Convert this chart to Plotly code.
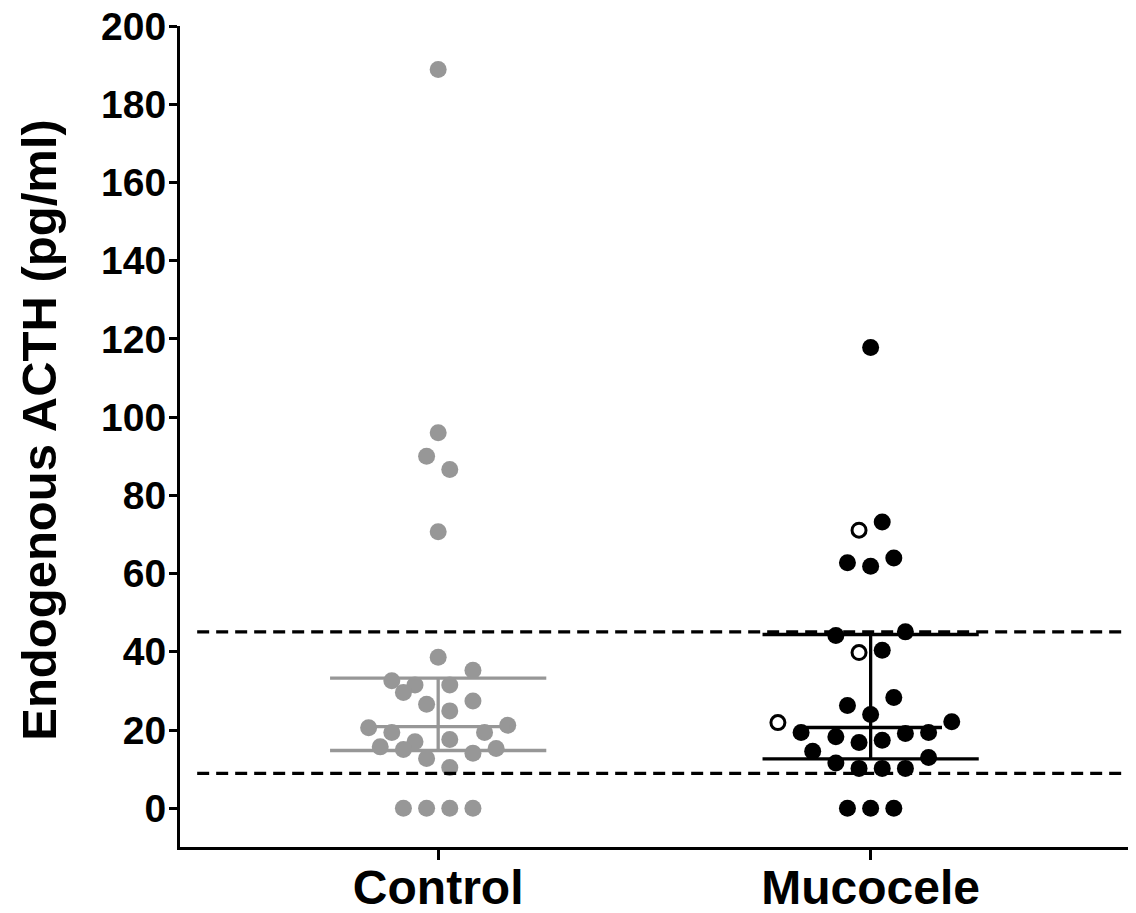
import numpy as np
import plotly.graph_objects as go

# ---------------- data ----------------
categories = ["Control", "Mucocele"]

control_values = [188.9, 96.0, 90.0, 86.6, 70.7,
                  38.6, 35.3, 32.6, 31.5, 29.6, 31.5, 26.6, 27.4, 24.9,
                  20.6, 21.2, 19.4, 19.4, 17.6, 17.0, 15.7, 15.0, 14.1, 15.3,
                  12.7, 10.4, 0, 0, 0, 0]
# swarm slot index of each point (horizontal jitter, in half-marker steps)
control_slots = [0, 0, -1, 1, 0,
                 0, 3, -4, -2, -3, 1, -1, 3, 1,
                 -6, 6, -4, 4, 1, -2, -5, -3, 3, 5,
                 -1, 1, -3, -1, 1, 3]

mucocele_values = [117.8, 73.2, 71.1, 62.8, 61.9, 64.0,
                   44.2, 45.1, 39.8, 40.4, 26.3, 28.3, 24.0,
                   21.9, 22.1, 19.4, 18.3, 16.8, 17.4, 19.1, 19.4,
                   14.6, 11.6, 10.2, 10.2, 10.2, 13.0, 0, 0, 0]
mucocele_slots = [0, 1, -1, -2, 0, 2,
                  -3, 3, -1, 1, -2, 2, 0,
                  -8, 7, -6, -3, -1, 1, 3, 5,
                  -5, -3, -1, 1, 3, 5, -2, 0, 2]
mucocele_open = [False, False, True, False, False, False,
                 False, False, True, False, False, False, False,
                 True, False, False, False, False, False, False, False,
                 False, False, False, False, False, False, False, False, False]

reference_limits = [8.9, 45.1]
y_ticks = list(range(0, 201, 20))

# ---------------- styling constants ----------------
SLOT_STEP = 0.0268
GRAY = "#979797"
BLACK = "#000000"
FONT = "Liberation Sans, Arial, sans-serif"
CAP_HALF = 0.25
MED_HALF = 0.165


def quartiles(vals):
    v = np.sort(np.asarray(vals, dtype=float))
    n = len(v)

    def pct(p):
        pos = p * (n + 1) - 1
        lo = int(np.floor(pos))
        hi = min(lo + 1, n - 1)
        return v[lo] + (pos - lo) * (v[hi] - v[lo])
    return pct(0.25), float(np.median(v)), pct(0.75)


fig = go.Figure()


def add_group(idx, values, slots, color, open_flags=None):
    xs = [idx + s * SLOT_STEP for s in slots]
    if open_flags is None:
        open_flags = [False] * len(values)
    fx = [x for x, o in zip(xs, open_flags) if not o]
    fy = [y for y, o in zip(values, open_flags) if not o]
    ox = [x for x, o in zip(xs, open_flags) if o]
    oy = [y for y, o in zip(values, open_flags) if o]
    fig.add_trace(go.Scatter(x=fx, y=fy, mode="markers",
                             marker=dict(size=17, color=color, line=dict(width=0)),
                             showlegend=False, hoverinfo="y"))
    if ox:
        fig.add_trace(go.Scatter(x=ox, y=oy, mode="markers",
                                 marker=dict(size=14, color="white",
                                             line=dict(width=3, color=color)),
                                 showlegend=False, hoverinfo="y"))
    q1, med, q3 = quartiles(values)
    lx = [idx - CAP_HALF, idx + CAP_HALF, None,
          idx - CAP_HALF, idx + CAP_HALF, None,
          idx - MED_HALF, idx + MED_HALF, None,
          idx, idx]
    ly = [q3, q3, None, q1, q1, None, med, med, None, q1, q3]
    fig.add_trace(go.Scatter(x=lx, y=ly, mode="lines",
                             line=dict(color=color, width=3.3),
                             showlegend=False, hoverinfo="skip"))


add_group(0, control_values, control_slots, GRAY)
add_group(1, mucocele_values, mucocele_slots, BLACK, mucocele_open)

for lim in reference_limits:
    fig.add_shape(type="line", xref="paper", yref="y",
                  x0=0.018, x1=0.994, y0=lim, y1=lim,
                  line=dict(color="black", width=3.3, dash="12px,7px"))

fig.add_annotation(text="Endogenous ACTH (pg/ml)", xref="paper", yref="paper",
                   x=-0.148, y=0.508, textangle=-90, showarrow=False,
                   xanchor="center", yanchor="middle",
                   font=dict(family=FONT, size=49, color="black", weight="bold"))

# the page body adds an 8px offset, so the figure is sized to fill the rest
fig.update_layout(
    width=1128, height=905,
    margin=dict(l=172, r=2, t=18, b=66),
    plot_bgcolor="white", paper_bgcolor="white",
    xaxis=dict(range=[-0.597, 1.609], tickmode="array", tickvals=[0, 1],
               ticktext=categories, showline=True, linewidth=3, linecolor="black",
               ticks="outside", ticklen=10, tickwidth=3, tickcolor="black",
               showgrid=False, zeroline=False, automargin=False,
               ticklabelstandoff=-14, ticklabeloverflow="allow",
               tickfont=dict(family=FONT, size=48, color="black", weight="bold")),
    yaxis=dict(range=[-9.9, 200], tickmode="array", tickvals=y_ticks,
               showline=True, linewidth=3, linecolor="black",
               ticks="outside", ticklen=8, tickwidth=3, tickcolor="black",
               showgrid=False, zeroline=False, automargin=False,
               ticklabelstandoff=-5, ticklabeloverflow="allow",
               tickfont=dict(family=FONT, size=39, color="black", weight="bold")),
)

fig.write_html("out.html")
